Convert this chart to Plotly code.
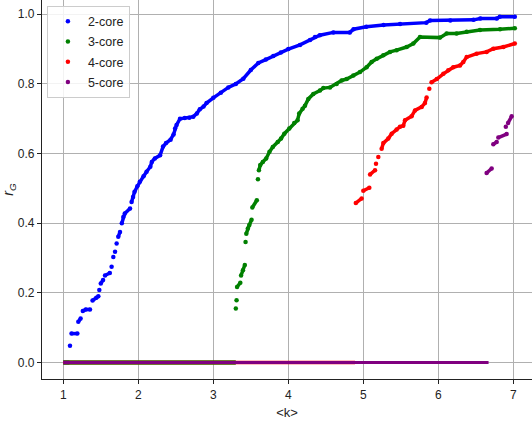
import plotly.graph_objects as go

# Giant-component ratio r_G of each k-core versus mean degree <k>.
# None entries split a series into the separate runs of points.
k2_x = [1.089, None,
        1.11, 1.187, None,
        1.20, 1.231, None,
        1.26, 1.30, 1.356, None,
        1.39, 1.44, 1.467, None,
        1.48, None,
        1.50, 1.53, None,
        1.556, 1.62, None,
        1.644, None, 1.667, None, 1.69, None, 1.711, None,
        1.733, 1.756, None,
        1.78, 1.80, 1.82, 1.89, None,
        1.91, 1.93, 1.95, 1.987, 2.02, 2.07, 2.11, 2.16, 2.18, 2.22, 2.29,
        2.33, 2.37, 2.43, 2.47, 2.49, 2.51, 2.556, 2.62, 2.68, 2.733, 2.78,
        2.82, 2.87, 2.91, 3.0, 3.1, 3.2, 3.3, 3.4, 3.5, 3.6, 3.7, 3.8, 3.9,
        4.0, 4.156, 4.29, 4.356, 4.42, 4.6, 4.82, 4.87, 5.04, 5.27, 5.49,
        5.84, 5.89, 6.16, 6.47, 6.56, 6.78, 6.82, 7.02]
k2_y = [0.048, None,
        0.083, 0.083, None,
        0.117, 0.126, None,
        0.148, 0.152, 0.152, None,
        0.178, 0.186, 0.19, None,
        0.208, None,
        0.227, 0.237, None,
        0.25, 0.257, None,
        0.275, None, 0.303, None, 0.318, None, 0.342, None,
        0.361, 0.375, None,
        0.40, 0.418, 0.428, 0.442, None,
        0.461, 0.475, 0.49, 0.506, 0.519, 0.535, 0.548, 0.562, 0.576, 0.586, 0.595,
        0.62, 0.63, 0.64, 0.655, 0.672, 0.682, 0.70, 0.702, 0.703, 0.706, 0.715,
        0.727, 0.735, 0.745, 0.76, 0.775, 0.79, 0.80, 0.815, 0.84, 0.86, 0.87, 0.88, 0.89,
        0.90, 0.912, 0.926, 0.935, 0.94, 0.948, 0.948, 0.957, 0.964, 0.969, 0.972,
        0.976, 0.982, 0.982, 0.984, 0.988, 0.988, 0.993, 0.993]

k3_x = [3.30, None, 3.31, None,
        3.317, 3.36, None,
        3.37, 3.395, 3.42, None,
        3.43, None,
        3.44, 3.46, 3.48, 3.51, None,
        3.52, 3.58, None,
        3.595, None,
        3.608, 3.626, 3.66, 3.705, 3.749, 3.793, 3.859, 3.903, 3.947, 4.013,
        4.079, 4.123, 4.145, 4.19, 4.222, 4.267, 4.333, 4.422, 4.467, 4.556,
        4.644, 4.711, 4.778, 4.867, 4.956, 5.044, 5.111, 5.178, 5.267, 5.356,
        5.444, 5.578, 5.667, 5.756, 6.022, 6.111, 6.244, 6.378, 6.556, 6.822, 7.02]
k3_y = [0.155, None, 0.179, None,
        0.217, 0.229, None,
        0.25, 0.265, 0.28, None,
        0.346, None,
        0.37, 0.385, 0.395, 0.41, None,
        0.445, 0.466, None,
        0.526, None,
        0.552, 0.567, 0.576, 0.586, 0.605, 0.619, 0.633, 0.643, 0.657, 0.672,
        0.688, 0.696, 0.715, 0.729, 0.737, 0.757, 0.771, 0.781, 0.788, 0.79,
        0.80, 0.81, 0.814, 0.824, 0.834, 0.848, 0.863, 0.872, 0.882, 0.892,
        0.897, 0.906, 0.916, 0.935, 0.933, 0.945, 0.945, 0.95, 0.955, 0.957, 0.96]

k4_x = [4.90, 4.978, None,
        5.0, 5.08, None,
        5.09, 5.156, None,
        5.169, None, 5.2, None,
        5.244, 5.267, 5.333, 5.378, 5.444, 5.489, 5.533, 5.556, 5.644, 5.689,
        5.778, 5.822, 5.844, None,
        5.88, None,
        5.91, 5.98, 6.067, 6.133, 6.2, 6.289, 6.333, 6.378, 6.511, 6.644,
        6.733, 6.867, 7.02]
k4_y = [0.458, 0.471, None,
        0.493, 0.502, None,
        0.54, 0.552, None,
        0.571, None, 0.59, None,
        0.614, 0.63, 0.643, 0.657, 0.669, 0.677, 0.68, 0.696, 0.707, 0.724,
        0.734, 0.745, 0.761, None,
        0.786, None,
        0.805, 0.814, 0.829, 0.839, 0.848, 0.853, 0.863, 0.877, 0.887, 0.892,
        0.901, 0.906, 0.916]

k5_x = [6.644, 6.711, None,
        6.733, 6.778, None,
        6.8, 6.911, None,
        6.90, None,
        6.93, 6.978]
k5_y = [0.544, 0.557, None,
        0.627, 0.633, None,
        0.646, 0.656, None,
        0.677, None,
        0.688, 0.707]

# Ranges of <k> where a core is absent (r_G = 0)
zero_start = [1.0, 1.0, 1.0, 1.0]
zero_end = [1.08, 3.30, 4.89, 6.67]

names = ["2-core", "3-core", "4-core", "5-core"]
colors = ["#0000ff", "#008000", "#ff0000", "#800080"]
series_x = [k2_x, k3_x, k4_x, k5_x]
series_y = [k2_y, k3_y, k4_y, k5_y]
zero_width = [4, 4.6, 3.4, 2.8]

FONT = "Liberation Sans, Arial, sans-serif"

fig = go.Figure()

for i in range(4):
    fig.add_trace(go.Scatter(
        x=[zero_start[i], zero_end[i]], y=[0, 0], mode="lines",
        line=dict(color=colors[i], width=zero_width[i]),
        legendgroup=names[i], showlegend=False, hoverinfo="skip"))

for i in range(4):
    fig.add_trace(go.Scatter(
        x=series_x[i], y=series_y[i], mode="lines",
        line=dict(color=colors[i], width=3.5), connectgaps=False,
        legendgroup=names[i], showlegend=False, hoverinfo="skip"))
    fig.add_trace(go.Scatter(
        x=series_x[i], y=series_y[i], mode="markers", name=names[i],
        marker=dict(color=colors[i], size=4.5, line=dict(width=0)),
        legendgroup=names[i]))

axis_common = dict(
    showgrid=True, gridcolor="#b0b0b0", gridwidth=1,
    showline=True, linecolor="#222222", linewidth=1.2,
    ticks="outside", ticklen=4, tickcolor="#222222", tickwidth=1,
    zeroline=False, mirror=False,
    tickfont=dict(family=FONT, size=12, color="#222222"),
)

fig.update_layout(
    width=532, height=427,
    margin=dict(l=42, r=0, t=0, b=48),
    paper_bgcolor="white", plot_bgcolor="white",
    font=dict(family=FONT, size=12, color="#222222"),
    xaxis=dict(range=[0.716, 7.249], tickvals=[1, 2, 3, 4, 5, 6, 7],
               title=dict(text="&lt;k&gt;", font=dict(family=FONT, size=13), standoff=7),
               **axis_common),
    yaxis=dict(range=[-0.0474, 1.041], tickvals=[0, 0.2, 0.4, 0.6, 0.8, 1.0],
               tickformat=".1f",
               title=dict(text="<i>r</i><sub><i>G</i></sub>", font=dict(family=FONT, size=14),
                          standoff=6),
               **axis_common),
    legend=dict(x=0.01, y=0.985, xanchor="left", yanchor="top",
                bgcolor="rgba(255,255,255,0.85)", bordercolor="#cccccc", borderwidth=1,
                font=dict(family=FONT, size=12.5, color="#222222"),
                itemsizing="trace", tracegroupgap=1, itemwidth=30),
    showlegend=True,
)

fig.write_html("out.html")
